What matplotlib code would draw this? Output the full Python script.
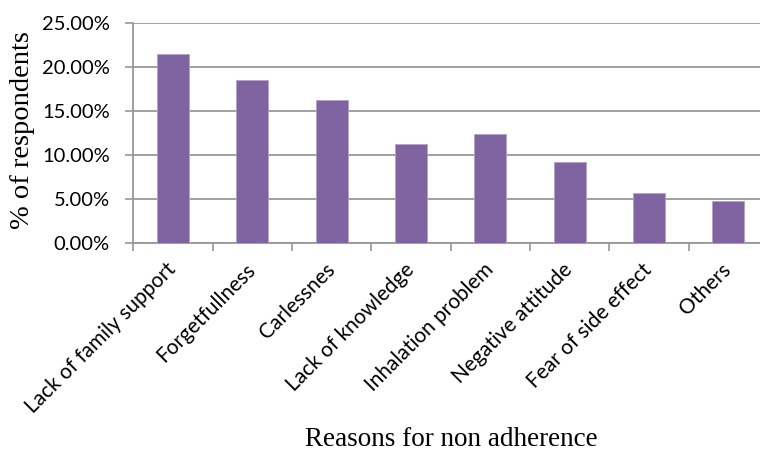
import matplotlib
matplotlib.use('agg')
import matplotlib.pyplot as plt
from matplotlib.ticker import FuncFormatter

reasons = ["Lack of family support", "Forgetfullness", "Carlessnes",
           "Lack of knowledge", "Inhalation problem", "Negative attitude",
           "Fear of side effect", "Others"]
percent = [21.5, 18.5, 16.25, 11.3, 12.45, 9.25, 5.65, 4.8]
y_ticks = [0, 5, 10, 15, 20, 25]

bar_color = "#8064A2"
grid_color = "#989898"

fig = plt.figure(figsize=(7.6, 4.55), dpi=100)
ax = fig.add_axes([133.3 / 760, 1 - 243 / 455, (768 - 133.3) / 760, (243 - 23.3) / 455])

x = range(len(reasons))
ax.bar(x, percent, width=0.4, color=bar_color, edgecolor="#B3A2C7", linewidth=0.6, zorder=3)

ax.set_xlim(-0.5, len(reasons) - 0.5)
ax.set_ylim(0, 25)
ax.set_yticks(y_ticks)
ax.yaxis.set_major_formatter(FuncFormatter(lambda v, p: "%.2f%%" % v))
ax.grid(axis="y", color=grid_color, linewidth=1.3, zorder=0)

ax.set_xticks([i - 0.5 for i in range(len(reasons) + 1)], minor=False)
ax.set_xticklabels([""] * (len(reasons) + 1))
ax.set_xticks(list(x), minor=True)
ax.set_xticklabels(reasons, minor=True, rotation=45, ha="right", va="center",
                   rotation_mode="anchor", fontsize=15, family="Lato")
ax.tick_params(axis="x", which="minor", length=0, pad=17)
ax.tick_params(axis="x", which="major", length=6, color=grid_color, width=1.2)
ax.tick_params(axis="y", length=6, color=grid_color, width=1.2, labelsize=14.5, pad=11)
for lab in ax.get_yticklabels():
    lab.set_family("Lato")

for side in ["top", "right"]:
    ax.spines[side].set_visible(False)
for side in ["left", "bottom"]:
    ax.spines[side].set_color(grid_color)
    ax.spines[side].set_linewidth(1.3)

fig.text(23 / 760, 1 - 130 / 455, "% of respondents", rotation=90, ha="center", va="center",
         fontsize=20.5, family="Liberation Serif")
fig.text(451 / 760, 1 - 440 / 455, "Reasons for non adherence", ha="center", va="center",
         fontsize=19.5, family="Liberation Serif")

fig.savefig("out.png", dpi=100)
